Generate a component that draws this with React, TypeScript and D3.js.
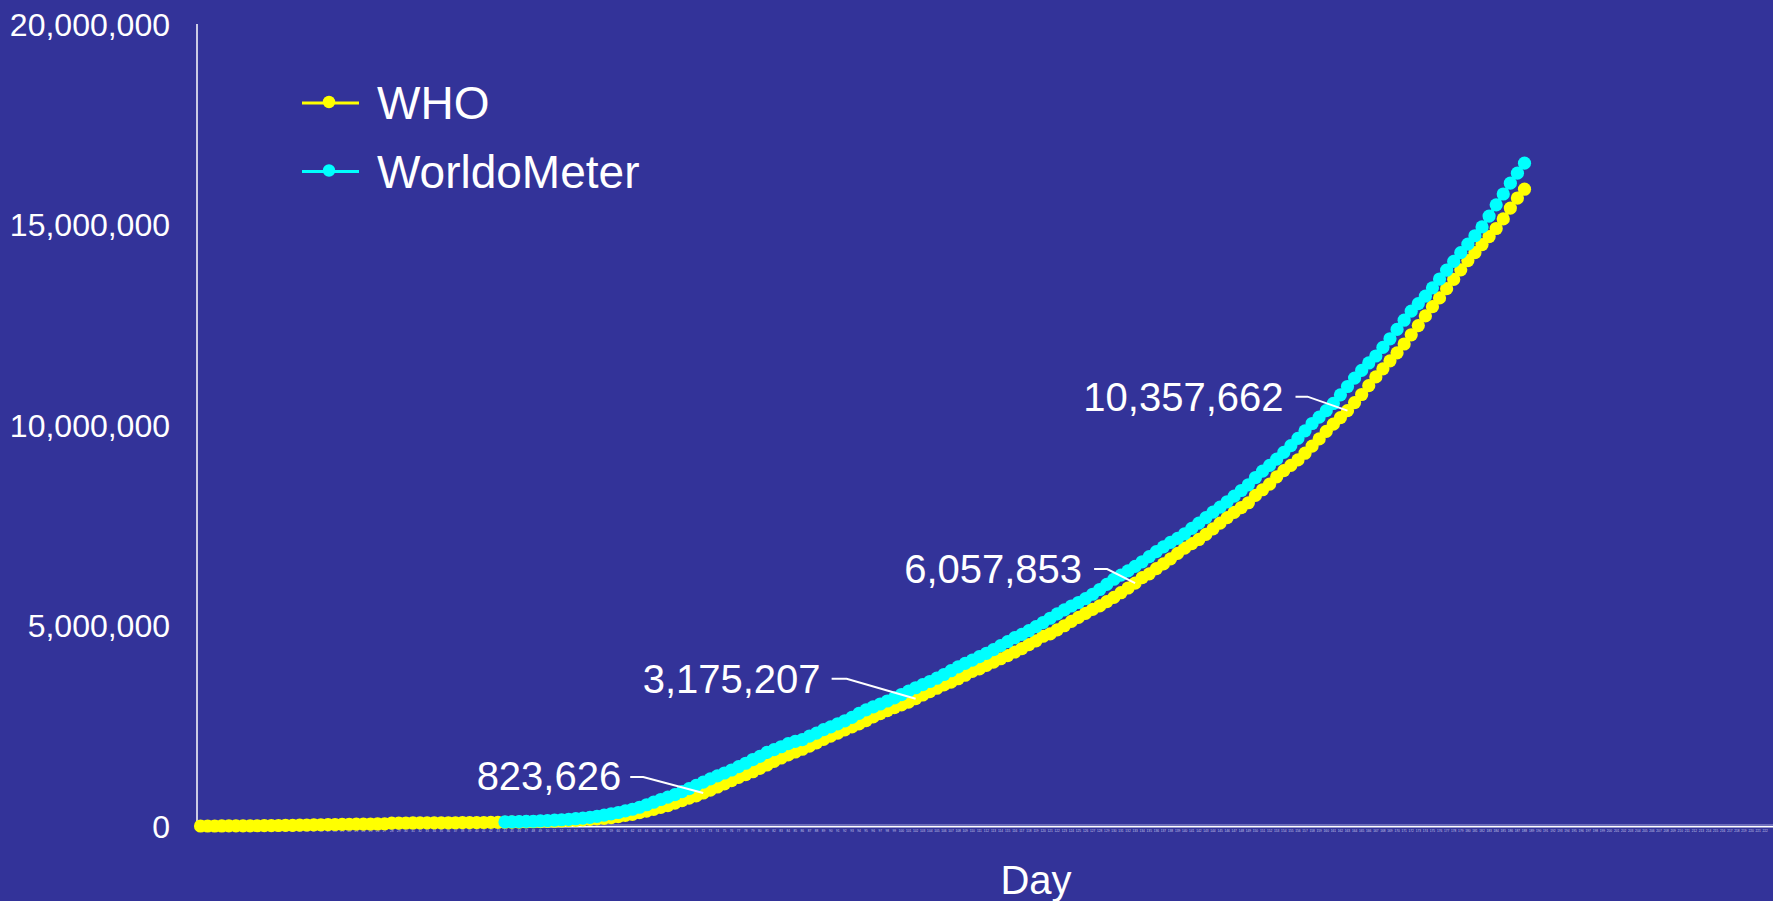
import React from "react";
import * as d3 from "d3";

// ---------- DATA ----------
const dayCategories: number[] = d3.range(1, 238); // category axis: Day 1 .. 237

const yTicks: number[] = [0, 5000000, 10000000, 15000000, 20000000];

const seriesNames: string[] = ["WHO", "WorldoMeter"];
const seriesColors: string[] = ["#FFFF00", "#00FFFF"];

// WHO cumulative cases, day 1 .. 188
const whoStartDay = 1;
const whoValues: number[] = [
  282, 314, 581, 846, 1320, 2014, 2798, 4593, 6065, 7818,
  9826, 11953, 14557, 17391, 20630, 24554, 28276, 31481, 34886, 37558,
  40554, 43103, 45171, 46997, 49053, 50580, 51857, 71429, 73332, 75204,
  75748, 76769, 77794, 78811, 79331, 80239, 81109, 82294, 83652, 85403,
  87137, 88948, 90870, 93090, 95324, 98192, 102015, 105586, 109577, 113702,
  118319, 125048, 132758, 142539, 153517, 167515, 179111, 191127, 209839, 234073,
  266073, 292142, 332930, 372757, 414179, 462684, 509164, 571678, 634835, 693224,
  750890, 823626, 896450, 972303, 1051635, 1133758, 1210956, 1279722, 1353361, 1436198,
  1521252, 1610909, 1696588, 1773084, 1844863, 1914916, 1991562, 2074529, 2160207, 2241778,
  2314621, 2397216, 2471136, 2544792, 2626321, 2719897, 2804796, 2878196, 2954222, 3018952,
  3090445, 3175207, 3267184, 3349786, 3435894, 3517345, 3588773, 3672238, 3759967, 3855788,
  3917366, 4006257, 4088848, 4170424, 4248389, 4338658, 4425485, 4525497, 4618821, 4731458,
  4789205, 4893186, 4993470, 5103006, 5204508, 5304772, 5404512, 5488825, 5593631, 5701337,
  5817385, 5934936, 6057853, 6194533, 6287771, 6416828, 6535354, 6663304, 6799713, 6931000,
  7039918, 7145539, 7273958, 7410510, 7553182, 7690708, 7823289, 7941791, 8061550, 8242999,
  8385440, 8525042, 8708008, 8860331, 8993659, 9129146, 9296202, 9473214, 9653048, 9843073,
  10021401, 10185374, 10357662, 10560000, 10760000, 10980000, 11200000, 11400000, 11600000, 11800000,
  12020000, 12250000, 12480000, 12720000, 12950000, 13170000, 13400000, 13630000, 13870000, 14100000,
  14300000, 14500000, 14700000, 14900000, 15140000, 15410000, 15660000, 15880000,
];

// WorldoMeter cumulative cases, day 44 .. 188
const wmStartDay = 44;
const wmValues: number[] = [
  102000, 106000, 109800, 113600, 118600, 125900, 134000, 145200, 156100, 167500,
  181500, 197100, 214800, 242500, 272200, 304500, 337000, 378300, 418000, 467600,
  529600, 593300, 660700, 720100, 782400, 857500, 932600, 1013300, 1095900,
  1176100, 1249700, 1321400, 1396500, 1479800, 1565300, 1657500, 1735700, 1835100, 1905900,
  1976200, 2056100,
  2110000, 2152400, 2240200, 2317800, 2401400, 2472300, 2549100, 2624000, 2708400, 2810300,
  2896700, 2971500, 3041800, 3117200, 3193900, 3278300, 3365000,
  3447800, 3526600, 3604100, 3685300, 3778400, 3872500, 3968400, 4056900, 4138000, 4225000,
  4307000, 4400000, 4499000, 4597000, 4697000, 4777000, 4870000, 4971000, 5074000, 5181000,
  5288000, 5389000, 5486000, 5574000, 5672000, 5779000, 5898000, 6025000, 6153000, 6258000,
  6362000, 6473000, 6589000, 6716000, 6843000, 6961000, 7071000, 7174000, 7287000, 7421000,
  7551000, 7690000, 7826000, 7950000, 8085000, 8227000, 8367000, 8509000, 8690000, 8850000,
  8994000, 9150000, 9316000, 9487000, 9665000, 9854000, 10037000, 10197000, 10358000, 10537000,
  10752000,
  10960000, 11170000, 11362000, 11547000, 11721000, 11935000, 12150000, 12384000, 12613000, 12839000,
  13028000, 13213000, 13420000, 13640000, 13860000, 14080000, 14300000, 14510000, 14720000, 14940000,
  15210000, 15490000, 15760000, 16030000, 16280000, 16530000,
];

// Annotated WHO points (day, label)
const annotationDays: number[] = [72, 102, 133, 163];
const annotationLabels: string[] = ["823,626", "3,175,207", "6,057,853", "10,357,662"];

// ---------- LAYOUT ----------
const W = 1773;
const H = 901;
const BG = "#333399";
const FONT = "'Liberation Sans', Arial, Helvetica, sans-serif";
const plotLeft = 197;
const bandStep = 7.08;
const plotTop = 24;
const plotBottom = 826;

// label offsets relative to the annotated point: [textEndDx, baselineDy, leaderStartDx, leaderDy, cornerDx]
const annotationLayout: number[][] = [
  [-82, -3, -73, -16, -60],
  [-95, -6, -84, -20, -69],
  [-53, 0, -41, -14, -28],
  [-64, 0, -52, -14, -40],
];

export default function App() {
  const x = d3
    .scaleBand<number>()
    .domain(dayCategories)
    .range([plotLeft, plotLeft + dayCategories.length * bandStep])
    .paddingInner(0)
    .paddingOuter(0);
  const cx = (d: number) => (x(d) as number) + x.bandwidth() / 2;
  const y = d3.scaleLinear().domain([0, 20000000]).range([plotBottom, plotTop]);

  const who = whoValues.map((v, i) => ({ day: whoStartDay + i, v }));
  const wm = wmValues.map((v, i) => ({ day: wmStartDay + i, v }));
  const series = [who, wm];

  const line = d3
    .line<{ day: number; v: number }>()
    .x((d) => cx(d.day))
    .y((d) => y(d.v));

  const axisEnd = plotLeft + dayCategories.length * bandStep;
  const axisMid = (plotLeft + axisEnd) / 2;

  return (
    <svg
      width={W}
      height={H}
      viewBox={`0 0 ${W} ${H}`}
      style={{ position: "absolute", left: 0, top: 0, display: "block" }}
    >
      <rect x={0} y={0} width={W} height={H} fill={BG} />

      {/* y axis */}
      <line x1={plotLeft} x2={plotLeft} y1={plotTop} y2={plotBottom} stroke="#ffffff" strokeWidth={1.5} />
      {yTicks.map((t) => (
        <text
          key={t}
          x={170}
          y={y(t) + 11.5}
          textAnchor="end"
          fontFamily={FONT}
          fontSize={32}
          fill="#ffffff"
        >
          {d3.format(",")(t)}
        </text>
      ))}

      {/* x axis */}
      <line x1={plotLeft} x2={axisEnd} y1={plotBottom - 1} y2={plotBottom - 1} stroke="#a8a8dc" strokeWidth={1} />
      <line x1={plotLeft} x2={axisEnd} y1={plotBottom + 0.8} y2={plotBottom + 0.8} stroke="#ffffff" strokeWidth={1.6} />
      {dayCategories
        .filter((d) => cx(d) < W - 4)
        .map((d) => (
          <text
            key={d}
            x={cx(d)}
            y={831.5}
            textAnchor="middle"
            fontFamily={FONT}
            fontSize={3.2}
            fill="#c8c8ec"
          >
            {d}
          </text>
        ))}
      <text x={axisMid} y={894} textAnchor="middle" fontFamily={FONT} fontSize={40} fill="#ffffff">
        Day
      </text>

      {/* series */}
      {series.map((s, si) => (
        <g key={si}>
          <path d={line(s) || ""} fill="none" stroke={seriesColors[si]} strokeWidth={3.5} />
          {s.map((p) => (
            <circle key={p.day} cx={cx(p.day)} cy={y(p.v)} r={6.6} fill={seriesColors[si]} />
          ))}
        </g>
      ))}

      {/* annotations */}
      {annotationDays.map((d, i) => {
        const v = whoValues[d - whoStartDay];
        const px = cx(d);
        const py = y(v);
        const [tdx, tdy, ldx, ldy, cdx] = annotationLayout[i];
        return (
          <g key={d}>
            <polyline
              points={`${px + ldx},${py + ldy} ${px + cdx},${py + ldy} ${px},${py}`}
              fill="none"
              stroke="#ffffff"
              strokeWidth={2}
            />
            <text
              x={px + tdx}
              y={py + tdy}
              textAnchor="end"
              fontFamily={FONT}
              fontSize={40}
              fill="#ffffff"
            >
              {annotationLabels[i]}
            </text>
          </g>
        );
      })}

      {/* legend */}
      {seriesNames.map((n, i) => {
        const ly = 103 + i * 68.5;
        return (
          <g key={n}>
            <line x1={302} x2={359} y1={ly} y2={ly} stroke={seriesColors[i]} strokeWidth={3} />
            <circle cx={329} cy={ly - 1} r={6.2} fill={seriesColors[i]} />
            <text x={377} y={ly + 16} fontFamily={FONT} fontSize={46} fill="#ffffff">
              {n}
            </text>
          </g>
        );
      })}
    </svg>
  );
}
